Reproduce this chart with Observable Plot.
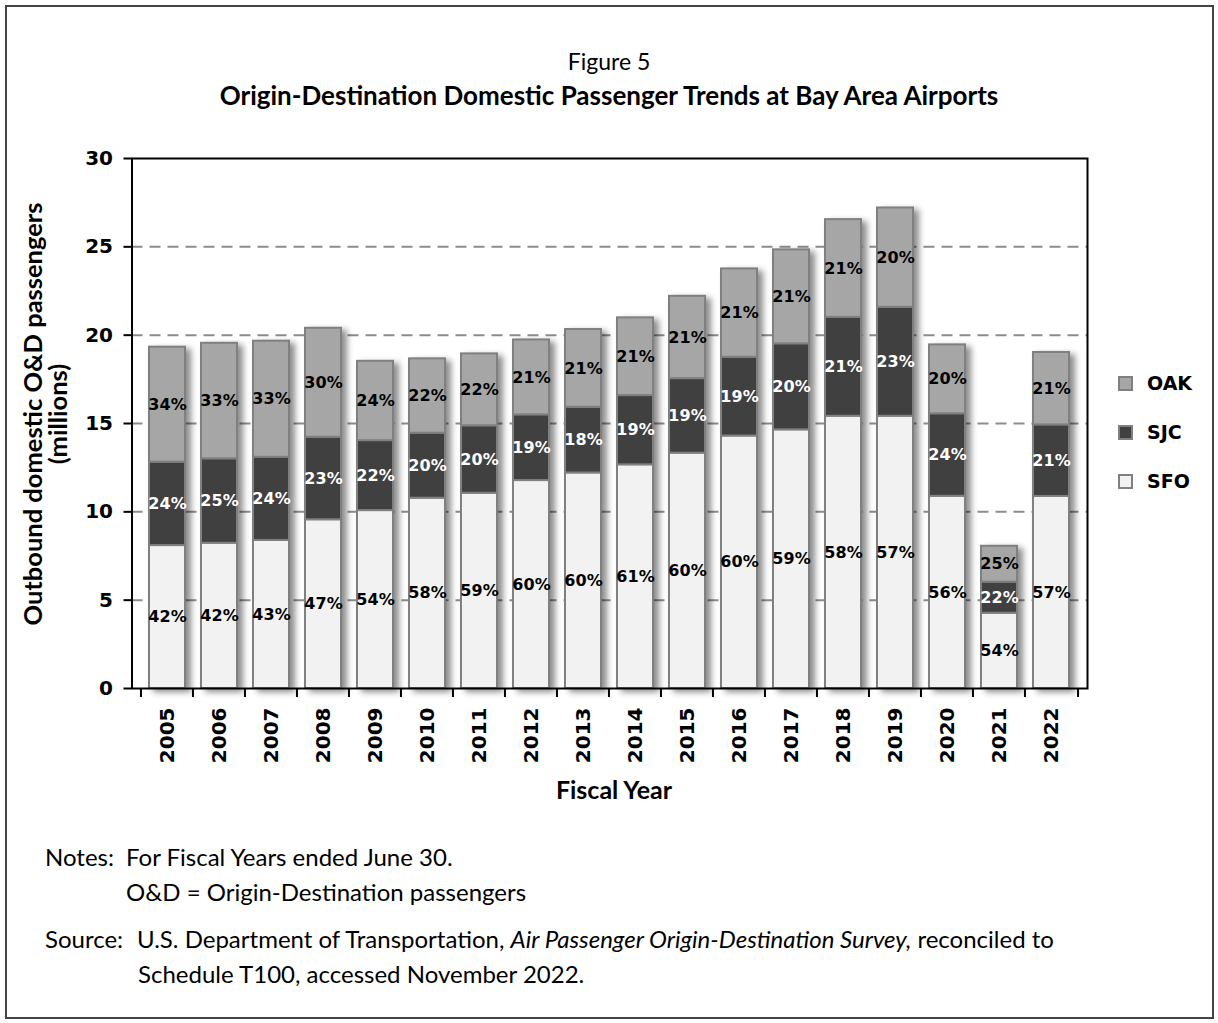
<!DOCTYPE html>
<html>
<head>
<meta charset="utf-8">
<script src="https://cdn.jsdelivr.net/npm/d3@7"></script>
<script src="https://cdn.jsdelivr.net/npm/@observablehq/plot@0.6"></script>
<style>
  html, body { margin: 0; padding: 0; background: #fff; }
  #page { position: relative; width: 1218px; height: 1023px; overflow: hidden; font-family: Lato, "Open Sans", sans-serif; color: #000; }
  #border { position: absolute; left: 5px; top: 5px; width: 1205px; height: 1010px; border: 2px solid #444; }
  .abs { position: absolute; white-space: nowrap; }
  .note { position: absolute; white-space: nowrap; font-size: 24px; line-height: 30px; }
  #chart { position: absolute; left: 0; top: 0; }
  #chart svg g[aria-label="bar"] { filter: drop-shadow(5px 3px 3px rgba(0,0,0,0.45)); }
  .sw { position: absolute; width: 11px; height: 11px; border: 2px solid #808080; }
  .lg { position: absolute; font-family: "DejaVu Sans", sans-serif; font-weight: bold; font-size: 19px; line-height: 20px; }
</style>
</head>
<body>
<div id="page">
  <div id="border"></div>
  <div class="abs" style="left:0;width:1218px;top:46px;text-align:center;font-size:23px;line-height:30px;">Figure 5</div>
  <div class="abs" style="left:0;width:1218px;top:79px;text-align:center;font-size:26px;line-height:32px;font-weight:bold;">Origin-Destination Domestic Passenger Trends at Bay Area Airports</div>
  <div id="chart"></div>
  <div class="abs" style="left:45px;top:414px;transform:translate(-50%,-50%) rotate(-90deg);font-weight:bold;font-size:25.5px;line-height:25px;text-align:center;">Outbound domestic O&amp;D passengers<br>(millions)</div>
  <div class="abs" style="left:614px;top:774px;transform:translateX(-50%);font-weight:bold;font-size:25px;line-height:30px;">Fiscal Year</div>
  <div class="sw" style="left:1118px;top:376px;background:#a6a6a6;"></div>
  <div class="lg" style="left:1147px;top:373px;">OAK</div>
  <div class="sw" style="left:1118px;top:425px;background:#404040;"></div>
  <div class="lg" style="left:1147px;top:422px;">SJC</div>
  <div class="sw" style="left:1118px;top:474px;background:#f2f2f2;"></div>
  <div class="lg" style="left:1147px;top:471px;">SFO</div>
  <div class="note" style="left:45px;top:842px;">Notes:</div>
  <div class="note" style="left:126px;top:842px;">For Fiscal Years ended June 30.</div>
  <div class="note" style="left:126px;top:877px;">O&amp;D = Origin-Destination passengers</div>
  <div class="note" style="left:45px;top:924px;">Source:</div>
  <div class="note" style="left:137px;top:924px;">U.S. Department of Transportation, <i>Air Passenger Origin-Destination Survey,</i> reconciled to</div>
  <div class="note" style="left:138px;top:959px;">Schedule T100, accessed November 2022.</div>
</div>
<script>
const years = ["2005","2006","2007","2008","2009","2010","2011","2012","2013","2014","2015","2016","2017","2018","2019","2020","2021","2022"];
const airports = ["SFO","SJC","OAK"];
const airportColors = ["#f2f2f2","#404040","#a6a6a6"];
// Outbound domestic O&D passengers (millions)
const sfo = [8.09, 8.22, 8.38, 9.55, 10.07, 10.77, 11.05, 11.77, 12.20, 12.66, 13.32, 14.29, 14.64, 15.41, 15.41, 10.88, 4.26, 10.87];
const sjc = [4.72, 4.78, 4.71, 4.67, 3.96, 3.68, 3.82, 3.72, 3.72, 3.92, 4.22, 4.46, 4.87, 5.60, 6.17, 4.67, 1.76, 4.05];
const oak = [6.51, 6.54, 6.57, 6.17, 4.49, 4.21, 4.07, 4.24, 4.40, 4.40, 4.66, 5.00, 5.32, 5.53, 5.62, 3.90, 2.03, 4.10];
// Share labels (%)
const sfoPct = [42, 42, 43, 47, 54, 58, 59, 60, 60, 61, 60, 60, 59, 58, 57, 56, 54, 57];
const sjcPct = [24, 25, 24, 23, 22, 20, 20, 19, 18, 19, 19, 19, 20, 21, 23, 24, 22, 21];
const oakPct = [34, 33, 33, 30, 24, 22, 22, 21, 21, 21, 21, 21, 21, 21, 20, 20, 25, 21];
const yTicks = [0, 5, 10, 15, 20, 25, 30];
const gridLines = [5, 10, 15, 20, 25];

const series = {SFO: [sfo, sfoPct], SJC: [sjc, sjcPct], OAK: [oak, oakPct]};
const data = years.flatMap((year, i) => airports.map(a => ({year, airport: a, value: series[a][0][i], pct: series[a][1][i]})));

const W = 1218, H = 820;
const mL = 131.5, mR = 131, mT = 158, mB = 132;
const halfStep = (W - mL - mR) / years.length / 2;

const labelFor = a => d => d.airport === a ? d.pct + "%" : "";
const textMark = (a, color) => Plot.text(data, Plot.stackY({
  x: "year", y: "value", z: "airport", order: airports,
  text: labelFor(a), fill: color, fontSize: 16, fontWeight: "bold"
}));

const chart = Plot.plot({
  width: W, height: H,
  marginLeft: mL, marginRight: mR, marginTop: mT, marginBottom: mB,
  style: {fontFamily: "DejaVu Sans, sans-serif", fontWeight: "bold", fontSize: "20px", color: "#000", background: "transparent", overflow: "visible"},
  x: {domain: years, padding: 0.3, label: null},
  y: {domain: [0, 30], label: null},
  color: {domain: airports, range: airportColors},
  marks: [
    Plot.ruleY(gridLines, {stroke: "#8c8c8c", strokeWidth: 2, strokeDasharray: "11,7"}),
    Plot.barY(data, {x: "year", y: "value", fill: "airport", z: "airport", order: airports, stroke: "#808080", strokeWidth: 2}),
    textMark("SFO", "#000"),
    textMark("SJC", "#fff"),
    textMark("OAK", "#000"),
    Plot.frame({stroke: "#000", strokeWidth: 2}),
    Plot.axisY({ticks: yTicks, tickSize: 8, tickPadding: 11, tickFormat: d => d, label: null, strokeWidth: 2}),
    Plot.axisX({tickSize: 0, tickRotate: -90, tickPadding: 19, label: null}),
    Plot.axisX({tickSize: 9, tickFormat: () => "", dx: -halfStep, label: null, strokeWidth: 2}),
    Plot.axisX({ticks: [years[years.length - 1]], tickSize: 9, tickFormat: () => "", dx: halfStep, label: null, strokeWidth: 2})
  ]
});
document.getElementById("chart").appendChild(chart);
</script>
</body>
</html>
